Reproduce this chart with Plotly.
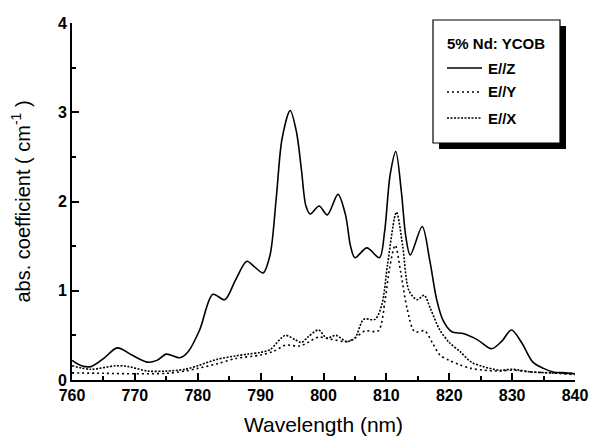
import plotly.graph_objects as go

# E//Z (solid)
wl_z = [760, 761.5, 763, 765, 767.2, 769.5, 772, 773.5, 775, 777.2, 778.5, 780.3, 782.4, 784.3, 786, 787.8,
        789, 790.4, 791.5, 792.5, 793.4, 794.7, 795.7, 796.5, 797.2, 797.9, 799.3, 800.6, 802.3, 803.5, 804.3,
        805, 806.9, 808.9, 809.7, 810.6, 811.5, 812.4, 813.1, 813.8, 815.7, 816.9, 818, 819, 820.4, 822.2, 824.5,
        826.7, 828.3, 829.9, 831.5, 833.3, 835, 836.5, 838.5, 840]
abs_z = [0.22, 0.16, 0.15, 0.24, 0.36, 0.28, 0.20, 0.22, 0.29, 0.25, 0.32, 0.56, 0.96, 0.90, 1.12, 1.33,
         1.27, 1.20, 1.40, 2.05, 2.70, 3.02, 2.78, 2.35, 1.95, 1.86, 1.95, 1.85, 2.08, 1.85, 1.50,
         1.37, 1.48, 1.37, 1.65, 2.30, 2.56, 2.10, 1.60, 1.40, 1.72, 1.34, 0.90, 0.67, 0.54, 0.52, 0.45,
         0.35, 0.43, 0.56, 0.42, 0.20, 0.13, 0.09, 0.08, 0.07]

# E//X (denser dots, upper dotted curve)
wl_x = [760, 763, 767, 769, 772, 775, 778, 780, 783, 786, 788, 790, 791.5, 793.9, 795.5, 796.5, 797.5, 799.2,
        800.5, 802, 803.7, 805, 806.4, 808.2, 809.3, 810.2, 811.6, 812.6, 813.6, 814.9, 816, 817, 818.5, 820,
        821.7, 823.5, 825.4, 828, 830, 833, 836, 840]
abs_x = [0.16, 0.12, 0.16, 0.15, 0.10, 0.10, 0.12, 0.16, 0.23, 0.27, 0.29, 0.31, 0.34, 0.50, 0.45, 0.42, 0.48, 0.56,
         0.47, 0.50, 0.43, 0.47, 0.68, 0.68, 0.85, 1.30, 1.88, 1.50, 1.00, 0.90, 0.95, 0.80, 0.56, 0.42,
         0.32, 0.20, 0.15, 0.11, 0.12, 0.09, 0.08, 0.07]

# E//Y (sparser dots, lower dotted curve)
wl_y = [760, 765, 770, 775, 778, 780, 783, 786, 790, 792, 794, 796.2, 797.5, 799.2, 801, 803.7, 805, 806.6,
        808.7, 809.8, 810.5, 811.4, 812.3, 813.3, 814.5, 816.1, 817.3, 818.5, 820, 821.7, 823.5, 825.4, 828,
        830, 833, 836, 840]
abs_y = [0.08, 0.075, 0.07, 0.075, 0.10, 0.13, 0.18, 0.24, 0.28, 0.32, 0.39, 0.38, 0.42, 0.48, 0.46, 0.43, 0.47, 0.55,
         0.55, 0.90, 1.25, 1.51, 1.20, 0.80, 0.54, 0.55, 0.42, 0.28, 0.22, 0.17, 0.13, 0.11, 0.10,
         0.11, 0.09, 0.08, 0.06]

legend_title = "5% Nd: YCOB"
series_names = ["E//Z", "E//Y", "E//X"]

FONT = "Liberation Sans, Arial, sans-serif"
DASHES = ["solid", "2px,3px", "2px,1.5px"]

fig = go.Figure()
for (wl, ab), name, dash in zip([(wl_z, abs_z), (wl_y, abs_y), (wl_x, abs_x)], series_names, DASHES):
    fig.add_trace(go.Scatter(x=wl, y=ab, mode="lines", name=name, showlegend=False,
                             line=dict(color="black", width=1.6, dash=dash, shape="spline", smoothing=0.85)))

W, H = 589, 436
L, R, T, B = 72, 14, 23, 56
pw, ph = W - L - R, H - T - B

def px(xp):
    return (xp - L) / pw

def py(yp):
    return (H - B - yp) / ph

# legend box (shadow + framed box), drawn as layout decorations
shapes = [
    dict(type="rect", xref="paper", yref="paper", x0=px(439), x1=px(566), y0=py(149), y1=py(26),
         fillcolor="black", line=dict(width=0), layer="above"),
    dict(type="rect", xref="paper", yref="paper", x0=px(433), x1=px(560), y0=py(143), y1=py(20),
         fillcolor="white", line=dict(color="black", width=1.2), layer="above"),
]
annotations = [
    dict(xref="paper", yref="paper", x=px(445), y=py(43), xanchor="left", yanchor="middle",
         text=legend_title, showarrow=False,
         font=dict(family=FONT, size=15, color="black", weight="bold")),
]
row_y = [68, 92, 118]
for name, dash, yy in zip(series_names, DASHES, row_y):
    shapes.append(dict(type="line", xref="paper", yref="paper", x0=px(447), x1=px(482), y0=py(yy), y1=py(yy),
                       line=dict(color="black", width=1.6, dash=dash), layer="above"))
    annotations.append(dict(xref="paper", yref="paper", x=px(486), y=py(yy), xanchor="left", yanchor="middle",
                            text=name, showarrow=False,
                            font=dict(family=FONT, size=15, color="black", weight="bold")))

fig.update_layout(
    width=W, height=H,
    margin=dict(l=L, r=R, t=T, b=B, pad=0),
    paper_bgcolor="white", plot_bgcolor="white",
    font=dict(family=FONT, color="black", size=15),
    showlegend=False,
    xaxis=dict(
        range=[760, 840], dtick=10, tick0=760,
        showline=True, linecolor="black", linewidth=2, mirror=False,
        ticks="inside", ticklen=7, tickwidth=2, tickcolor="black",
        minor=dict(dtick=5, ticks="inside", ticklen=4, tickwidth=1.5, tickcolor="black"),
        showgrid=False, zeroline=False,
        tickfont=dict(family=FONT, size=16, color="black", weight="bold"),
        title=dict(text="Wavelength (nm)", font=dict(family=FONT, size=21, color="black"), standoff=22),
        automargin=False,
    ),
    yaxis=dict(
        range=[0, 4], dtick=1, tick0=0,
        showline=True, linecolor="black", linewidth=2, mirror=False,
        ticks="inside", ticklen=7, tickwidth=2, tickcolor="black",
        minor=dict(dtick=0.5, ticks="inside", ticklen=4, tickwidth=1.5, tickcolor="black"),
        showgrid=False, zeroline=False,
        tickfont=dict(family=FONT, size=16, color="black", weight="bold"),
        title=dict(text="abs. coefficient ( cm<sup>-1</sup> )", font=dict(family=FONT, size=20, color="black"), standoff=22),
        automargin=False,
    ),
    shapes=shapes,
    annotations=annotations,
)

fig.write_html("out.html")
